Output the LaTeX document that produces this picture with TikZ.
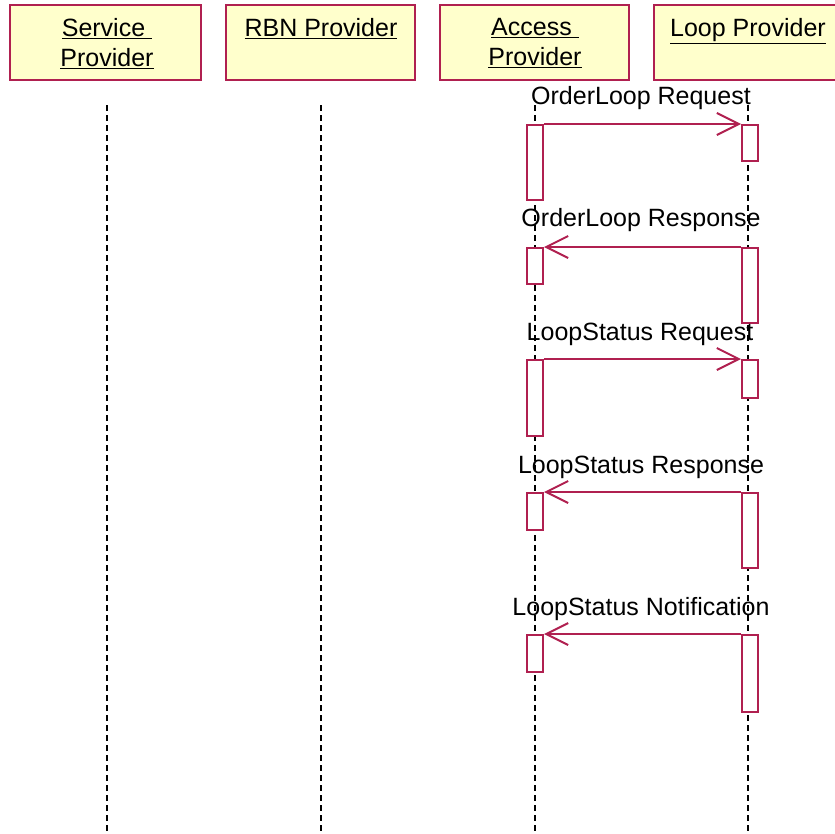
\documentclass[tikz,border=0pt]{standalone}
\usepackage{fontspec}
\setmainfont{Liberation Sans}
\usetikzlibrary{arrows.meta}
\definecolor{umlred}{RGB}{176,32,80}
\definecolor{umlfill}{RGB}{255,255,204}
\tikzset{
  actorbox/.style={draw=umlred, fill=umlfill, line width=2pt, minimum height=75pt, inner sep=0pt},
  actortext/.style={anchor=north, align=center, font=\fontsize{25}{30}\selectfont, inner sep=0pt},
  lifeline/.style={draw=black, line width=2pt, dash pattern=on 6pt off 4pt},
  actbox/.style={draw=umlred, fill=white, line width=2pt, minimum width=16pt, inner sep=0pt},
  msg/.style={draw=umlred, line width=2pt, -{Straight Barb[length=22pt,width=22pt,line width=2pt]}},
  msglabel/.style={font=\fontsize{25}{30}\selectfont, inner sep=0pt}
}
\newcommand{\ul}[1]{\underline{#1}}
\begin{document}
\begin{tikzpicture}[x=1pt,y=-1pt]
\useasboundingbox (0,0) rectangle (835,833);
% actor boxes
\node[actorbox, minimum width=191pt] (sp) at (105.5,42.5) {};
\node[actorbox, minimum width=189pt] (rbn) at (320.5,42.5) {};
\node[actorbox, minimum width=189pt] (ap) at (534.5,42.5) {};
\node[actorbox, minimum width=190pt] (lp) at (749,42.5) {};
\node[actortext] (spt) at (107,18) {\ul{Service\ }\\\ul{Provider}};
\node[actortext] (rbnt) at (321,18) {\ul{RBN Provider}};
\node[actortext] (apt) at (535,18) {\ul{Access\ }\\\ul{Provider}};
\node[actortext] (lpt) at (748,18) {\ul{Loop Provider}};
% lifeline ends
\coordinate (sp0) at (107,105); \coordinate (sp1) at (107,833);
\coordinate (rbn0) at (321,105); \coordinate (rbn1) at (321,833);
\coordinate (ap0) at (535,105); \coordinate (ap1) at (535,833);
\coordinate (lp0) at (748,105); \coordinate (lp1) at (748,833);
\draw[lifeline] (sp0) -- (sp1);
\draw[lifeline] (rbn0) -- (rbn1);
\draw[lifeline] (ap0) -- (ap1);
\draw[lifeline] (lp0) -- (lp1);
% activations
\node[actbox, minimum height=75pt] (a1) at (535,162.5) {};
\node[actbox, minimum height=36pt] (l1) at (750,143) {};
\node[actbox, minimum height=36pt] (a2) at (535,266) {};
\node[actbox, minimum height=75pt] (l2) at (750,285.5) {};
\node[actbox, minimum height=76pt] (a3) at (535,398) {};
\node[actbox, minimum height=38pt] (l3) at (750,379) {};
\node[actbox, minimum height=37pt] (a4) at (535,511.5) {};
\node[actbox, minimum height=75pt] (l4) at (750,530.5) {};
\node[actbox, minimum height=37pt] (a5) at (535,653.5) {};
\node[actbox, minimum height=77pt] (l5) at (750,673.5) {};
% messages
\draw[msg] (a1.north east) -- (l1.north west);
\draw[msg] (l2.north west) -- (a2.north east);
\draw[msg] (a3.north east) -- (l3.north west);
\draw[msg] (l4.north west) -- (a4.north east);
\draw[msg] (l5.north west) -- (a5.north east);
% labels
\node[msglabel] (m1) at (641,98) {OrderLoop Request};
\node[msglabel] (m2) at (641,220) {OrderLoop Response};
\node[msglabel] (m3) at (640,334) {LoopStatus Request};
\node[msglabel] (m4) at (641,467) {LoopStatus Response};
\node[msglabel] (m5) at (641,609) {LoopStatus Notification};
\end{tikzpicture}
\end{document}
